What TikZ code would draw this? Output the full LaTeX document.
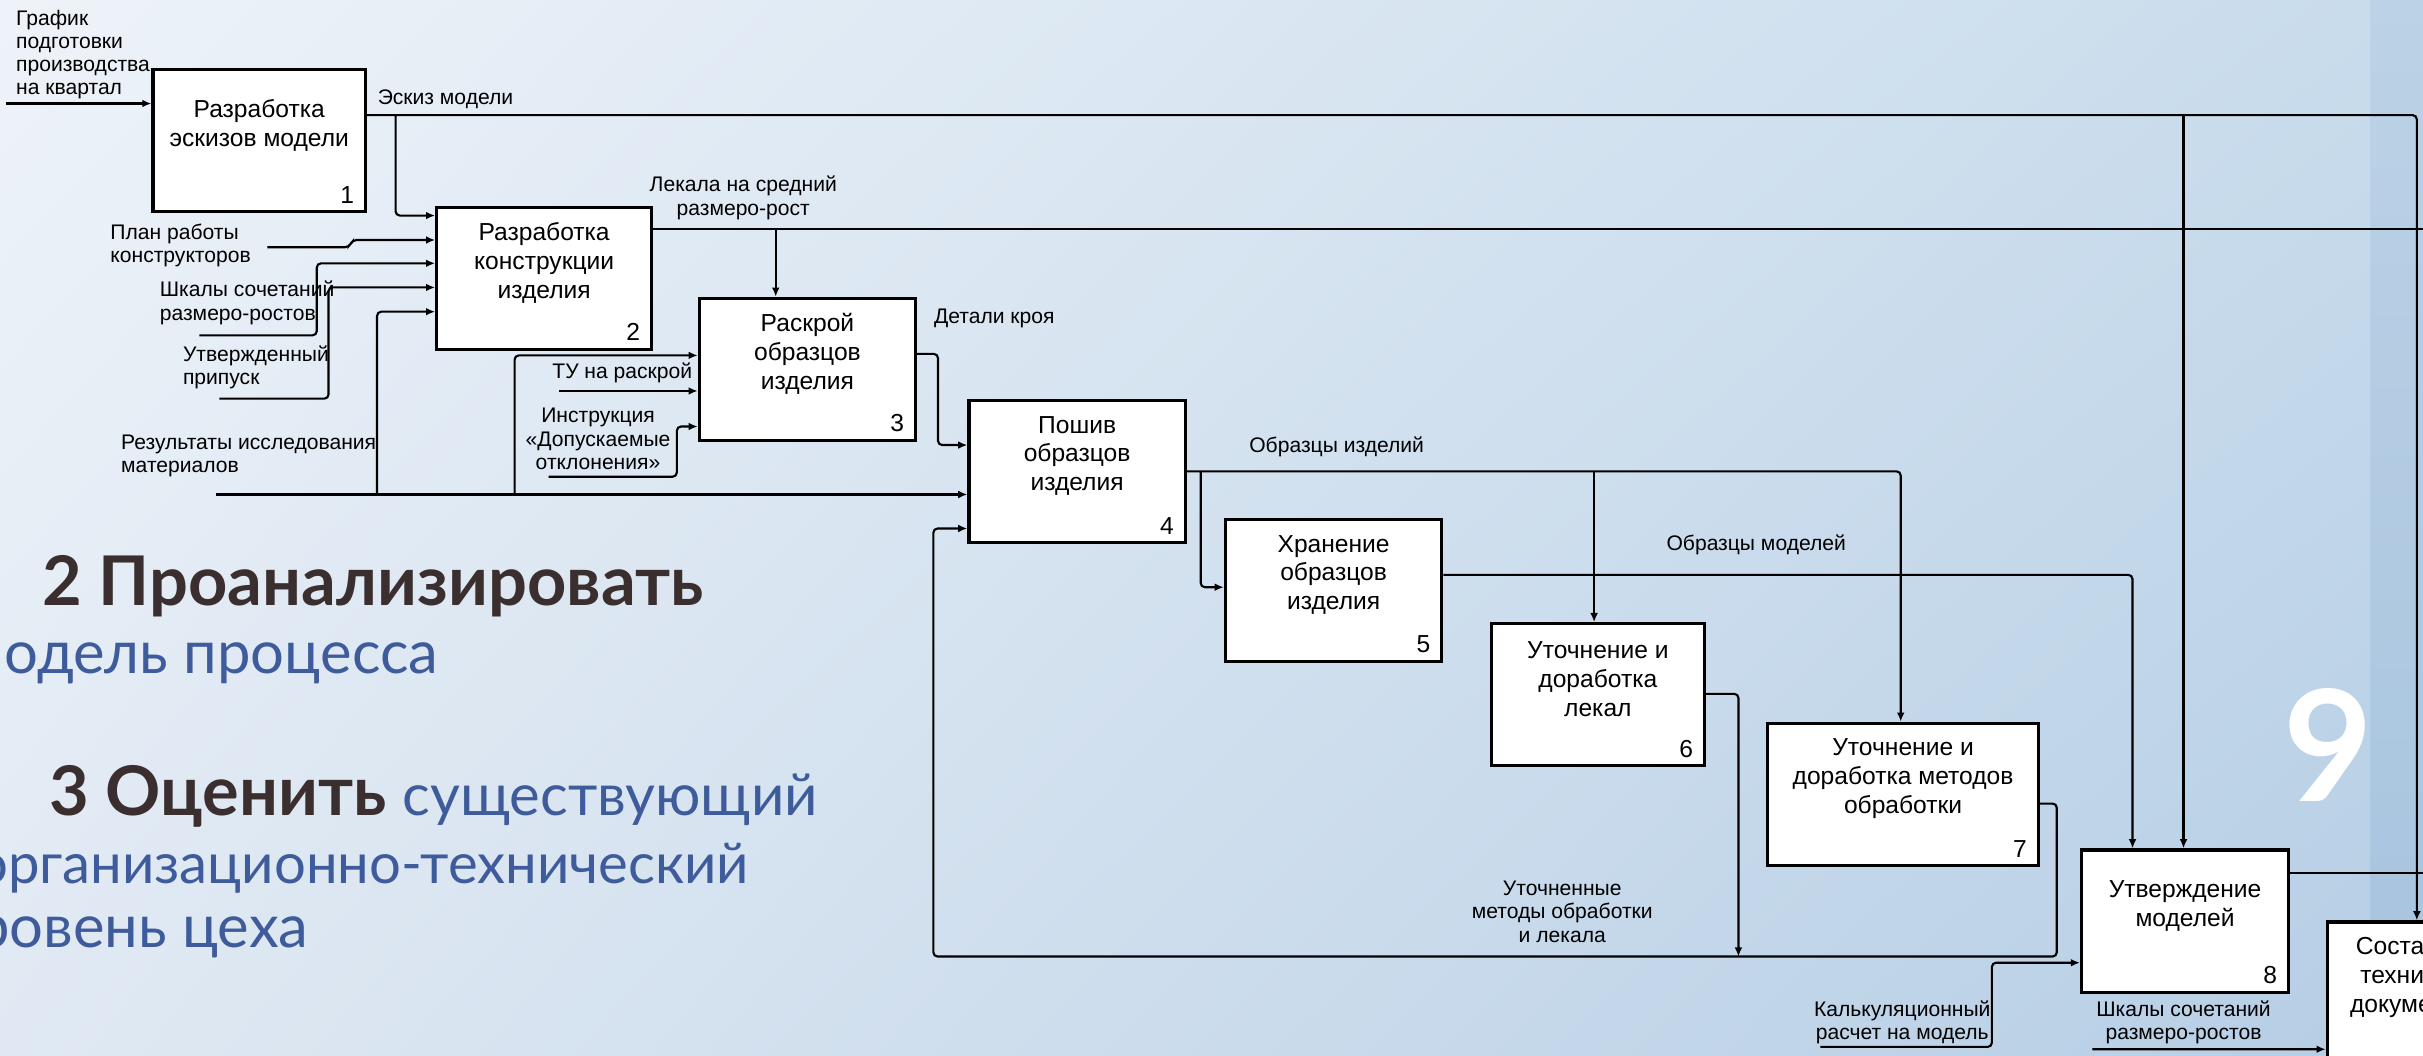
\documentclass[tikz,border=0pt]{standalone}
\usepackage{fontspec}
\setmainfont{Liberation Sans}
\newfontfamily\slidefont{Lato}
\usetikzlibrary{arrows.meta,shadings}
\newlength{\unitpx}
\setlength{\unitpx}{0.15453mm}
\definecolor{bgUL}{HTML}{EEF3F9}
\definecolor{bgUR}{HTML}{C9DCEC}
\definecolor{bgLL}{HTML}{E0E9F3}
\definecolor{bgLR}{HTML}{B6CEE5}
\definecolor{bandT}{HTML}{BCD2E6}
\definecolor{bandB}{HTML}{A6C3DE}
\definecolor{headC}{HTML}{3A2F2E}
\definecolor{bodyC}{HTML}{3E5B9B}
\begin{document}
\begin{tikzpicture}[x=0.15453mm, y=-0.15453mm,
        box/.style={draw, line width=0.9pt, fill=white, anchor=north west,
            minimum width=139\unitpx, minimum height=92\unitpx, inner sep=0pt},
        boxtext/.style={align=center, font=\fontsize{7}{8.2}\selectfont, inner sep=0pt},
        num/.style={anchor=south east, font=\fontsize{7}{8}\selectfont, inner sep=0pt},
        lbl/.style={font=\fontsize{6}{6.6}\selectfont, inner sep=0pt, align=left},
        head/.style={text=headC, font=\slidefont\bfseries\fontsize{19.5}{22}\selectfont, inner sep=0pt},
        body/.style={text=bodyC, font=\slidefont\fontsize{#1}{20}\selectfont, inner sep=0pt},
        body/.default=17,
        pipe/.style={line width=0.6pt, rounded corners=1.2pt},
        flow/.style={pipe, -{Latex[length=2.6pt,width=2.2pt]}}]
                    \useasboundingbox (0,0) rectangle (1568,683);
                    \clip (0,0) rectangle (1568,683);
                    \shade[upper left=bgUL, upper right=bgUR, lower left=bgLL, lower right=bgLR] (0,0) rectangle (1534,683);
                    \shade[top color=bandT, bottom color=bandB] (1534,0) rectangle (1568,683);

                    \foreach \i/\p/\w/\t in {
                        1/{98,44}/137.5/{Разработка\\эскизов модели},
                        2/{281.6,133}/139/{Разработка\\конструкции\\изделия},
                        3/{451.5,192}/140/{Раскрой\\образцов\\изделия},
                        4/{626,258}/140/{Пошив\\образцов\\изделия},
                        5/{792,335}/140/{Хранение\\образцов\\изделия},
                        6/{964,402.6}/138/{Уточнение и\\доработка\\лекал},
                        7/{1143,467}/175/{Уточнение и\\доработка методов\\обработки},
                        8/{1346,549}/134/{Утверждение\\моделей},
                        9/{1505,595.6}/134/{Составление\\технической\\документации}}{
                        \node[box, minimum width=\w\unitpx] (b\i) at (\p) {};
                        \node[boxtext] (t\i) at ([yshift=10\unitpx]b\i.center) {\t};
                        \node[num] (n\i) at ([xshift=-8\unitpx,yshift=6\unitpx]b\i.south east) {\i};
                    }

                    \coordinate (grafik) at (4,67);
                    \coordinate (plan) at (173,160);
                    \coordinate (shk) at (129,217);
                    \coordinate (pripusk) at (142,258);
                    \coordinate (rez) at (140,320);
                    \coordinate (tu) at (362,253);
                    \coordinate (instr) at (355,308.5);
                    \coordinate (kalk) at (1178,677.5);
                    \coordinate (shk2) at (1354,679);
                    \coordinate (lekEnd) at (1600,148);
                    \coordinate (utvEnd) at (1600,565);
                    \coordinate (fbJoin) at (1125,619);

                    \draw[flow] (grafik) -- (grafik -| b1.west);
                    \draw[flow] ([yshift=-30.5\unitpx]b1.north east) -- (1564,74.5) -- ([xshift=59\unitpx]b9.north west);
                    \draw[flow] (256,74.5) -- (256,139.5) -- ([yshift=-6.5\unitpx]b2.north west);
                    \draw[flow] (1413,74.5) -- ([xshift=67\unitpx]b8.north west);
                    \draw[pipe] ([yshift=-15\unitpx]b2.north east) -- (lekEnd);
                    \draw[flow] (502,148) -- ([xshift=50.5\unitpx]b3.north west);
                    \draw[flow] (plan) -- (226,160) -- (228,155.3) -- ([yshift=-22.3\unitpx]b2.north west);
                    \draw[flow] (shk) -- (205,217) -- (205,170.4) -- ([yshift=-37.4\unitpx]b2.north west);
                    \draw[flow] (pripusk) -- (212.6,258) -- (212.6,186) -- ([yshift=-53\unitpx]b2.north west);
                    \draw[flow] (rez) -- ([yshift=-62\unitpx]b4.north west);
                    \draw[flow] (244,320) -- (244,201.7) -- ([yshift=-68.7\unitpx]b2.north west);
                    \draw[flow] (333,320) -- (333,230) -- ([yshift=-38\unitpx]b3.north west);
                    \draw[flow] (tu) -- ([yshift=-61\unitpx]b3.north west);
                    \draw[flow] (instr) -- (438,308.5) -- (438,276) -- ([yshift=-84\unitpx]b3.north west);
                    \draw[flow] ([yshift=-37\unitpx]b3.north east) -- (607,229) -- (607,288) -- ([yshift=-30\unitpx]b4.north west);
                    \draw[flow] ([yshift=-47\unitpx]b4.north east) -- (1230,305) -- ([xshift=87\unitpx]b7.north west);
                    \draw[flow] (777,305) -- (777,380) -- ([yshift=-45\unitpx]b5.north west);
                    \draw[flow] (1031.6,305) -- ([xshift=67.6\unitpx]b6.north west);
                    \draw[flow] ([yshift=-37\unitpx]b5.north east) -- (1380,372) -- ([xshift=34\unitpx]b8.north west);
                    \draw[flow] ([yshift=-46.4\unitpx]b6.north east) -- (1125,449) -- (fbJoin);
                    \draw[flow] ([yshift=-53\unitpx]b7.north east) -- (1331,520) -- (1331,619) -- (604,619) -- (604,342) -- ([yshift=-84\unitpx]b4.north west);
                    \draw[flow] (kalk) -- (1289,677.5) -- (1289,623) -- ([yshift=-74\unitpx]b8.north west);
                    \draw[flow] (shk2) -- ([yshift=-83.4\unitpx]b9.north west);
                    \draw[pipe] ([yshift=-16\unitpx]b8.north east) -- (utvEnd);

                    \node[lbl, anchor=north west] (lgr) at (10,6) {График\\подготовки\\производства\\на квартал};
                    \node[lbl, anchor=west] (lesk) at (244,64) {Эскиз модели};
                    \node[lbl, align=center] (llek) at (481,128) {Лекала на средний\\размеро-рост};
                    \node[lbl, anchor=west] (lplan) at (71,159) {План работы\\конструкторов};
                    \node[lbl, anchor=west] (lshk) at (103,196) {Шкалы сочетаний\\размеро-ростов};
                    \node[lbl, anchor=west] (lpr) at (118,237.6) {Утвержденный\\припуск};
                    \node[lbl, anchor=west] (lrez) at (78,295) {Результаты исследования\\материалов};
                    \node[lbl, anchor=west] (ltu) at (357,241) {ТУ на раскрой};
                    \node[lbl, align=center] (lins) at (387,284) {Инструкция\\«Допускаемые\\отклонения»};
                    \node[lbl, anchor=west] (ldet) at (604,206) {Детали кроя};
                    \node[lbl, anchor=west] (lobi) at (808,289) {Образцы изделий};
                    \node[lbl, anchor=west] (lobm) at (1078,352.7) {Образцы моделей};
                    \node[lbl, align=center] (lut) at (1011,590) {Уточненные\\методы обработки\\и лекала};
                    \node[lbl, align=center] (lkal) at (1231,661.6) {Калькуляционный\\расчет на модель};
                    \node[lbl, align=center] (lshk2) at (1413,661.6) {Шкалы сочетаний\\размеро-ростов};

                    \node[text=white, font=\slidefont\bfseries\fontsize{44}{44}\selectfont, inner sep=0pt] (pg) at (1507,482) {9};
                    \node[head, anchor=base west] (h2) at (27,392) {2 Проанализировать};
                    \node[body, anchor=base east] (p2) at (284,436) {модель процесса};
                    \node[head, anchor=base west] (h3) at (31.6,528) {3 Оценить};
                    \node[body=16.5, anchor=base west] (p3a) at (260,528) {существующий};
                    \node[body=16, anchor=base east] (p3b) at (485,571.5) {организационно-технический};
                    \node[body, anchor=base east] (p3c) at (200,613) {уровень цеха};
                \end{tikzpicture}
\end{document}
